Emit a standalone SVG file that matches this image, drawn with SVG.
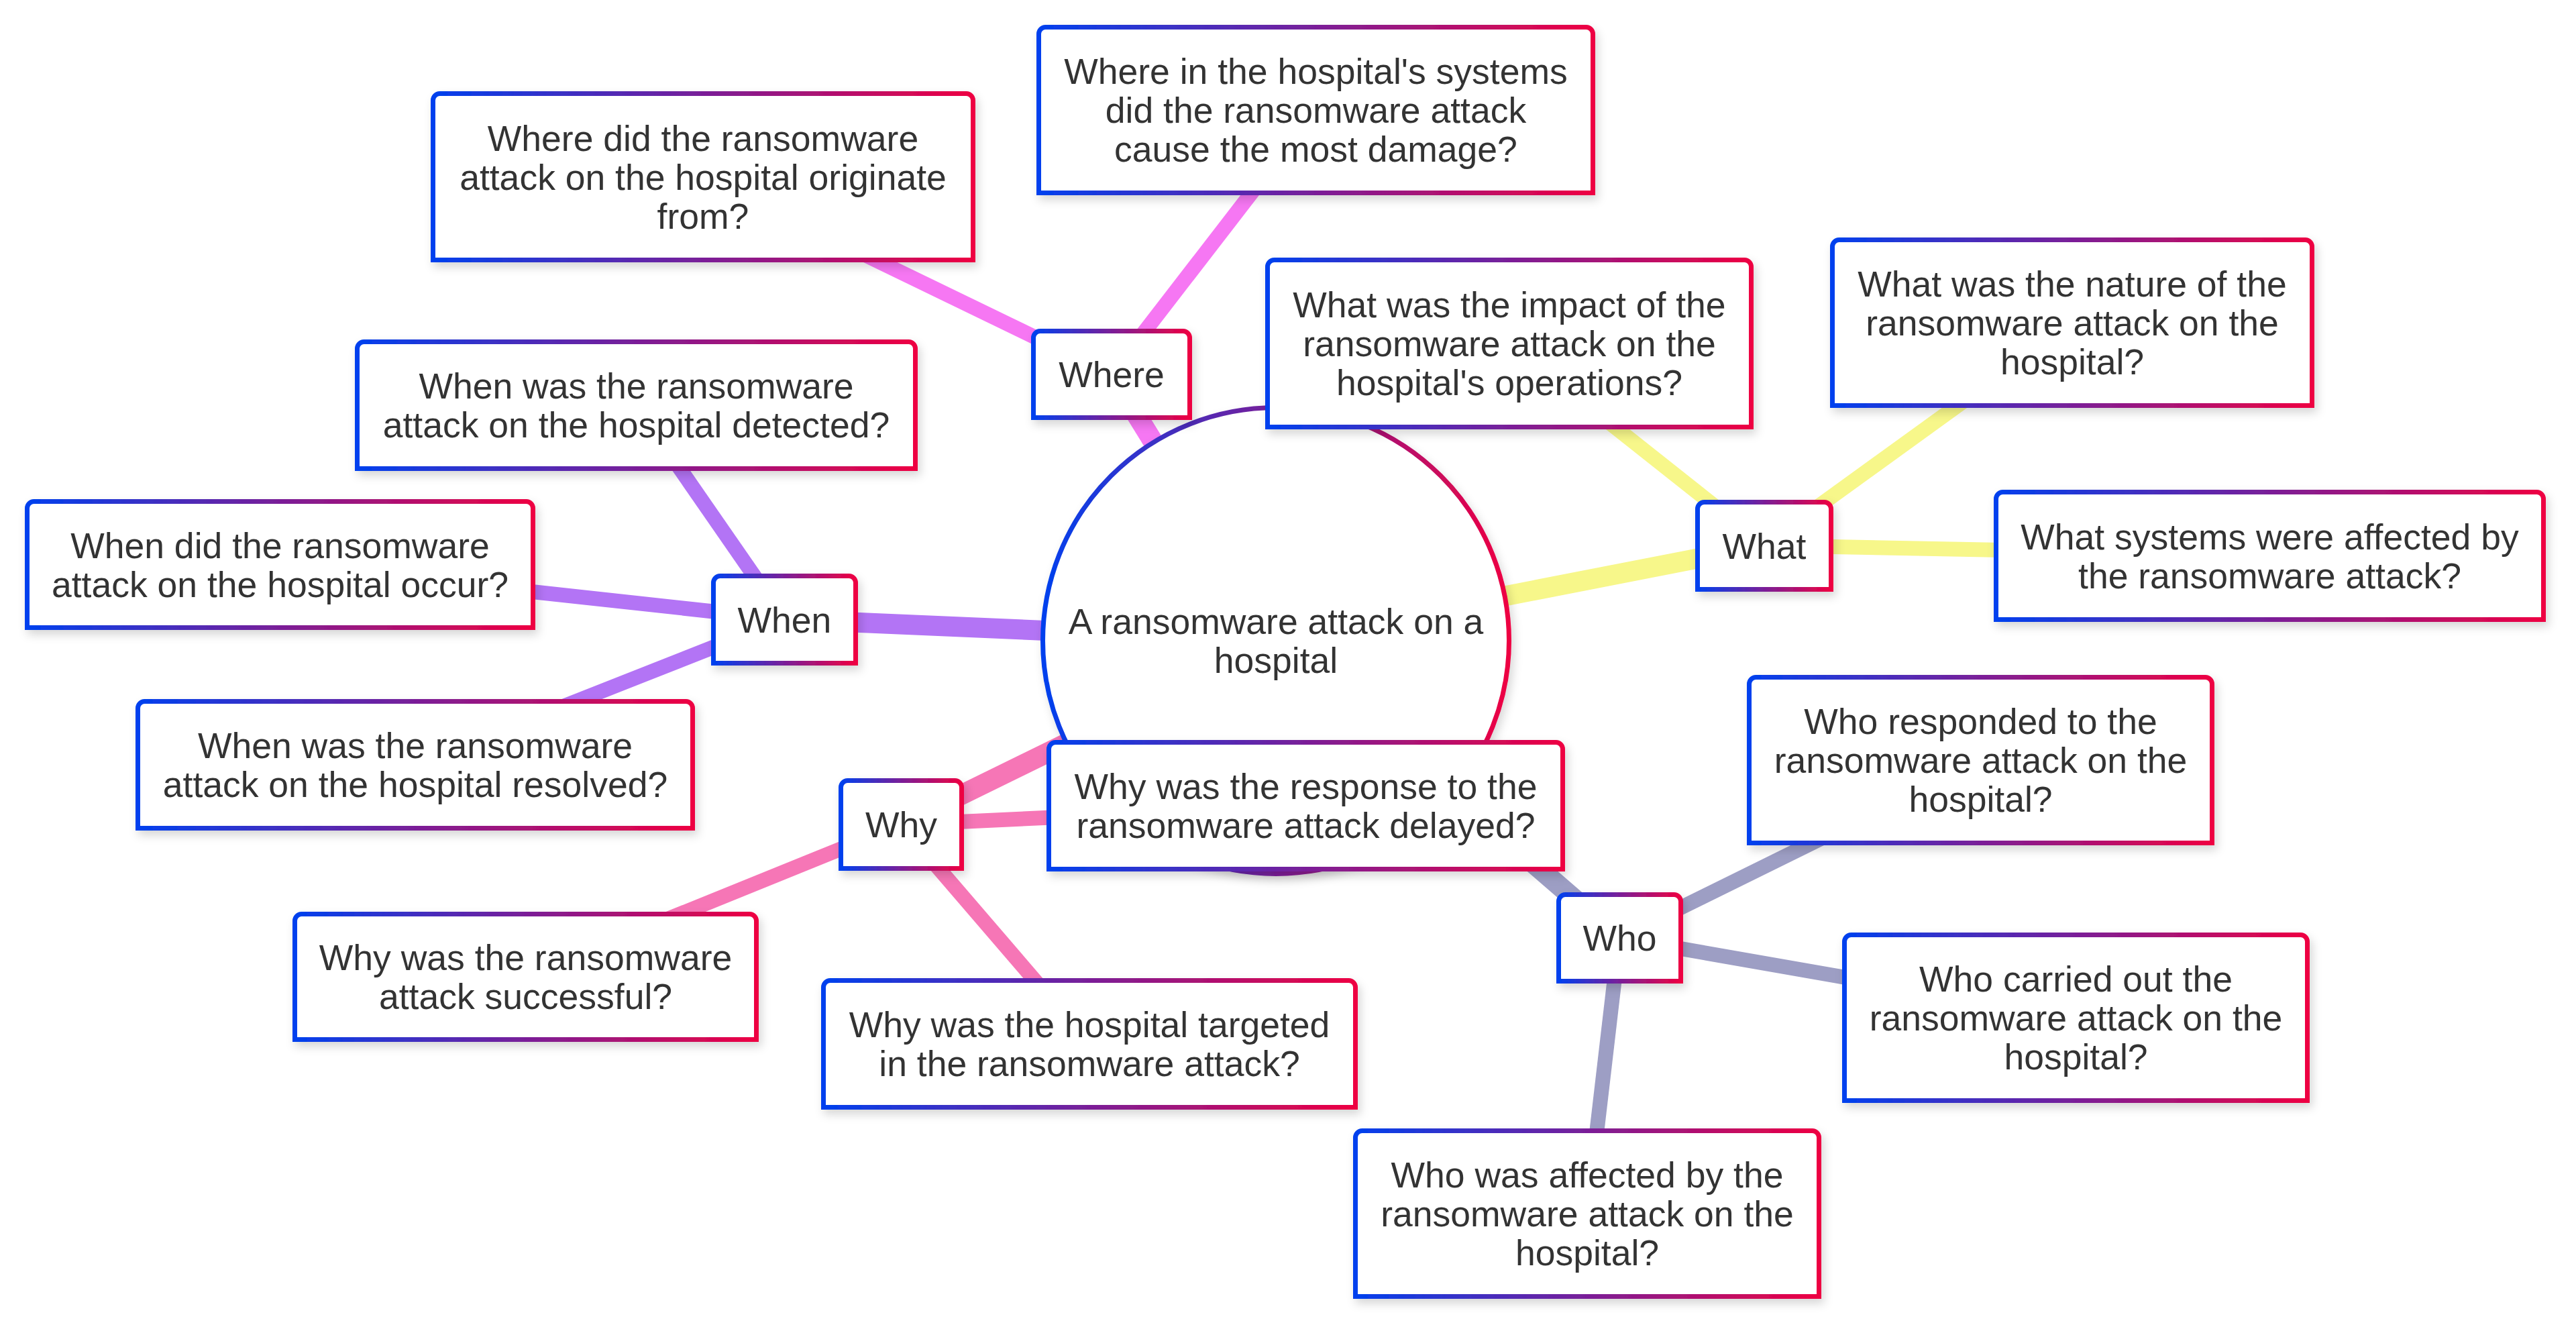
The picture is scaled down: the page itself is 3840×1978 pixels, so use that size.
<svg xmlns="http://www.w3.org/2000/svg" width="3840" height="1978" viewBox="0 0 3840 1978">
<defs>
<linearGradient id="bord" x1="0" y1="0" x2="1" y2="0">
<stop offset="0" stop-color="#0040ee"/>
<stop offset="0.5" stop-color="#7a1f98"/>
<stop offset="1" stop-color="#ee0042"/>
</linearGradient>
<filter id="sh" x="-10%" y="-10%" width="125%" height="130%">
<feDropShadow dx="4" dy="7" stdDeviation="7" flood-color="#000" flood-opacity="0.16"/>
</filter>
</defs>
<style>
.box{fill:#fff;stroke:url(#bord);stroke-width:7;filter:url(#sh)}
.t{font-family:"Liberation Sans",Arial,sans-serif;font-size:53.5px;fill:#333;text-anchor:middle}
.c{fill:none;stroke-linecap:butt}
.main{stroke-width:30}
.leaf{stroke-width:22}
.where{stroke:#f677f3}
.what{stroke:#f7f78a}
.when{stroke:#b374f5}
.why{stroke:#f676b6}
.who{stroke:#9d9ec4}
</style>
<rect width="3840" height="1978" fill="#fff"/>
<g id="connectors">
<line class="c main where" x1="1902" y1="955" x2="1657" y2="558"/>
<line class="c main what" x1="1902" y1="955" x2="2630" y2="813"/>
<line class="c main when" x1="1902" y1="955" x2="1169" y2="923"/>
<line class="c main why" x1="1902" y1="955" x2="1343" y2="1229"/>
<line class="c main who" x1="1902" y1="955" x2="2414" y2="1398"/>
<line class="c leaf where" x1="1657" y1="558" x2="1048" y2="263"/>
<line class="c leaf where" x1="1657" y1="558" x2="1961" y2="164"/>
<line class="c leaf what" x1="2630" y1="813" x2="2250" y2="512"/>
<line class="c leaf what" x1="2630" y1="813" x2="3089" y2="481"/>
<line class="c leaf what" x1="2630" y1="813" x2="3383" y2="828"/>
<line class="c leaf when" x1="1169" y1="923" x2="948" y2="604"/>
<line class="c leaf when" x1="1169" y1="923" x2="417" y2="841"/>
<line class="c leaf when" x1="1169" y1="923" x2="619" y2="1140"/>
<line class="c leaf why" x1="1343" y1="1229" x2="1946" y2="1201"/>
<line class="c leaf why" x1="1343" y1="1229" x2="783" y2="1456"/>
<line class="c leaf why" x1="1343" y1="1229" x2="1624" y2="1556"/>
<line class="c leaf who" x1="2414" y1="1398" x2="2952" y2="1133"/>
<line class="c leaf who" x1="2414" y1="1398" x2="3094" y2="1517"/>
<line class="c leaf who" x1="2414" y1="1398" x2="2366" y2="1809"/>
</g>
<g id="root">
<circle class="box" cx="1902" cy="955" r="347.5"/>
<text class="t" x="1902" y="945">A ransomware attack on a</text>
<text class="t" x="1902" y="1003">hospital</text>
</g>
<g id="where">
<path class="box" d="M1540.5 622.5V503.5A10 10 0 0 1 1550.5 493.5H1763.5A10 10 0 0 1 1773.5 503.5V622.5Z"/>
<text class="t" x="1657" y="577">Where</text>
</g>
<g id="where-origin">
<path class="box" d="M645.5 387.5V149.5A10 10 0 0 1 655.5 139.5H1440.5A10 10 0 0 1 1450.5 149.5V387.5Z"/>
<text class="t" x="1048" y="224.5">Where did the ransomware</text>
<text class="t" x="1048" y="282.5">attack on the hospital originate</text>
<text class="t" x="1048" y="340.5">from?</text>
</g>
<g id="where-systems">
<path class="box" d="M1548.5 287.5V50.5A10 10 0 0 1 1558.5 40.5H2364.5A10 10 0 0 1 2374.5 50.5V287.5Z"/>
<text class="t" x="1961.5" y="125">Where in the hospital's systems</text>
<text class="t" x="1961.5" y="183">did the ransomware attack</text>
<text class="t" x="1961.5" y="241">cause the most damage?</text>
</g>
<g id="what-impact">
<path class="box" d="M1889.5 636.5V397.5A10 10 0 0 1 1899.5 387.5H2600.5A10 10 0 0 1 2610.5 397.5V636.5Z"/>
<text class="t" x="2250" y="473">What was the impact of the</text>
<text class="t" x="2250" y="531">ransomware attack on the</text>
<text class="t" x="2250" y="589">hospital's operations?</text>
</g>
<g id="what-nature">
<path class="box" d="M2731.5 604.5V367.5A10 10 0 0 1 2741.5 357.5H3436.5A10 10 0 0 1 3446.5 367.5V604.5Z"/>
<text class="t" x="3089" y="442">What was the nature of the</text>
<text class="t" x="3089" y="500">ransomware attack on the</text>
<text class="t" x="3089" y="558">hospital?</text>
</g>
<g id="what">
<path class="box" d="M2530.5 878.5V758.5A10 10 0 0 1 2540.5 748.5H2719.5A10 10 0 0 1 2729.5 758.5V878.5Z"/>
<text class="t" x="2630" y="832.5">What</text>
</g>
<g id="what-systems">
<path class="box" d="M2975.5 923.5V743.5A10 10 0 0 1 2985.5 733.5H3781.5A10 10 0 0 1 3791.5 743.5V923.5Z"/>
<text class="t" x="3383.5" y="818.5">What systems were affected by</text>
<text class="t" x="3383.5" y="876.5">the ransomware attack?</text>
</g>
<g id="when-detected">
<path class="box" d="M532.5 698.5V519.5A10 10 0 0 1 542.5 509.5H1354.5A10 10 0 0 1 1364.5 519.5V698.5Z"/>
<text class="t" x="948.5" y="594">When was the ransomware</text>
<text class="t" x="948.5" y="652">attack on the hospital detected?</text>
</g>
<g id="when-occur">
<path class="box" d="M40.5 935.5V757.5A10 10 0 0 1 50.5 747.5H784.5A10 10 0 0 1 794.5 757.5V935.5Z"/>
<text class="t" x="417.5" y="831.5">When did the ransomware</text>
<text class="t" x="417.5" y="889.5">attack on the hospital occur?</text>
</g>
<g id="when">
<path class="box" d="M1063.5 988.5V868.5A10 10 0 0 1 1073.5 858.5H1265.5A10 10 0 0 1 1275.5 868.5V988.5Z"/>
<text class="t" x="1169.5" y="942.5">When</text>
</g>
<g id="when-resolved">
<path class="box" d="M205.5 1234.5V1055.5A10 10 0 0 1 215.5 1045.5H1022.5A10 10 0 0 1 1032.5 1055.5V1234.5Z"/>
<text class="t" x="619" y="1130">When was the ransomware</text>
<text class="t" x="619" y="1188">attack on the hospital resolved?</text>
</g>
<g id="why">
<path class="box" d="M1253.5 1294.5V1173.5A10 10 0 0 1 1263.5 1163.5H1423.5A10 10 0 0 1 1433.5 1173.5V1294.5Z"/>
<text class="t" x="1343.5" y="1248">Why</text>
</g>
<g id="why-delayed">
<path class="box" d="M1563.5 1295.5V1116.5A10 10 0 0 1 1573.5 1106.5H2319.5A10 10 0 0 1 2329.5 1116.5V1295.5Z"/>
<text class="t" x="1946.5" y="1191">Why was the response to the</text>
<text class="t" x="1946.5" y="1249">ransomware attack delayed?</text>
</g>
<g id="why-successful">
<path class="box" d="M439.5 1549.5V1372.5A10 10 0 0 1 449.5 1362.5H1117.5A10 10 0 0 1 1127.5 1372.5V1549.5Z"/>
<text class="t" x="783.5" y="1446">Why was the ransomware</text>
<text class="t" x="783.5" y="1504">attack successful?</text>
</g>
<g id="why-targeted">
<path class="box" d="M1227.5 1650.5V1471.5A10 10 0 0 1 1237.5 1461.5H2010.5A10 10 0 0 1 2020.5 1471.5V1650.5Z"/>
<text class="t" x="1624" y="1546">Why was the hospital targeted</text>
<text class="t" x="1624" y="1604">in the ransomware attack?</text>
</g>
<g id="who">
<path class="box" d="M2323.5 1462.5V1343.5A10 10 0 0 1 2333.5 1333.5H2495.5A10 10 0 0 1 2505.5 1343.5V1462.5Z"/>
<text class="t" x="2414.5" y="1417">Who</text>
</g>
<g id="who-responded">
<path class="box" d="M2607.5 1256.5V1019.5A10 10 0 0 1 2617.5 1009.5H3287.5A10 10 0 0 1 3297.5 1019.5V1256.5Z"/>
<text class="t" x="2952.5" y="1094">Who responded to the</text>
<text class="t" x="2952.5" y="1152">ransomware attack on the</text>
<text class="t" x="2952.5" y="1210">hospital?</text>
</g>
<g id="who-carried">
<path class="box" d="M2749.5 1640.5V1403.5A10 10 0 0 1 2759.5 1393.5H3429.5A10 10 0 0 1 3439.5 1403.5V1640.5Z"/>
<text class="t" x="3094.5" y="1478">Who carried out the</text>
<text class="t" x="3094.5" y="1536">ransomware attack on the</text>
<text class="t" x="3094.5" y="1594">hospital?</text>
</g>
<g id="who-affected">
<path class="box" d="M2020.5 1932.5V1695.5A10 10 0 0 1 2030.5 1685.5H2701.5A10 10 0 0 1 2711.5 1695.5V1932.5Z"/>
<text class="t" x="2366" y="1770">Who was affected by the</text>
<text class="t" x="2366" y="1828">ransomware attack on the</text>
<text class="t" x="2366" y="1886">hospital?</text>
</g>
</svg>
